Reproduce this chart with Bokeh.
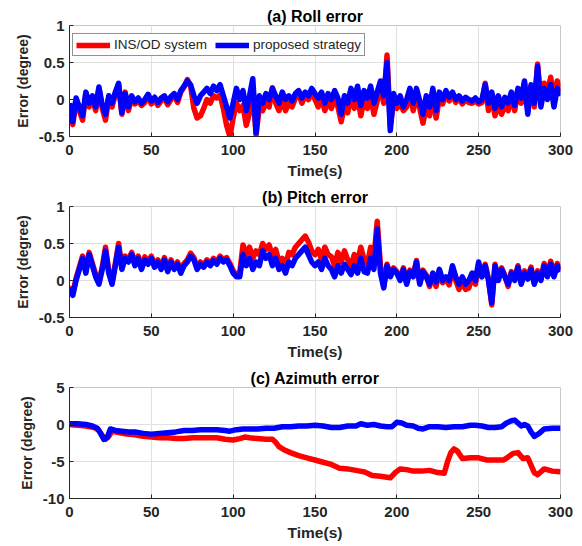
from bokeh.plotting import figure
from bokeh.layouts import column
from bokeh.models import FixedTicker, CustomJSTickFormatter, Range1d, Legend, LegendItem
from bokeh.embed import file_html
from bokeh.resources import INLINE

# ---------------- data ----------------
t = list(range(0, 301, 2))  # time stamps (s)

roll_ins = [
    -0.08, -0.34, -0.02, -0.15, -0.28, 0.08, -0.10, 0.02, -0.15, 0.15,
    -0.12, -0.28, 0.02, -0.10, 0.07, 0.20, -0.20, 0.10, -0.15, 0.02,
    -0.06, -0.02, -0.08, -0.04, 0.05, -0.06, 0.00, -0.08, -0.02, 0.02,
    -0.07, 0.00, 0.06, -0.04, 0.10, 0.17, 0.27, 0.18, -0.12, -0.25,
    -0.22, -0.12, 0.00, -0.05, 0.05, 0.02, 0.06, -0.12, -0.35, -0.50,
    -0.25, -0.05, -0.15, -0.08, -0.35, -0.18, 0.15, -0.48, -0.10, -0.15,
    -0.05, -0.10, 0.16, -0.05, -0.15, 0.00, -0.15, -0.05, -0.10, 0.02,
    0.08, -0.05, 0.06, 0.00, 0.12, 0.00, -0.10, 0.02, -0.15, -0.02,
    -0.12, 0.02, -0.10, -0.30, -0.08, -0.18, 0.05, -0.12, 0.05, -0.22,
    0.00, -0.12, 0.05, -0.20, -0.02, 0.18, -0.05, 0.60, -0.35, -0.05,
    -0.12, -0.05, -0.15, -0.10, 0.10, -0.15, 0.05, -0.12, -0.32, -0.08,
    -0.22, 0.05, -0.25, 0.02, -0.06, 0.08, -0.02, 0.06, -0.04, 0.02,
    -0.06, 0.00, -0.04, -0.05, -0.02, -0.06, -0.04, 0.22, -0.15, 0.05,
    -0.22, -0.05, -0.20, -0.08, -0.15, 0.05, -0.15, 0.12, -0.05, 0.22,
    -0.15, 0.18, -0.10, 0.48, -0.05, 0.22, 0.10, 0.30, 0.00, 0.25,
    0.12,
]
roll_prop = [
    -0.05, -0.30, 0.02, -0.10, -0.22, 0.10, -0.05, 0.05, -0.10, 0.17,
    -0.08, -0.20, 0.05, -0.05, 0.10, 0.22, -0.18, 0.08, -0.10, 0.05,
    -0.03, 0.02, -0.05, 0.00, 0.07, -0.02, 0.03, -0.04, 0.02, 0.05,
    -0.03, 0.04, 0.08, 0.00, 0.12, 0.18, 0.25, 0.20, 0.05, -0.05,
    0.05, 0.10, 0.15, 0.08, 0.18, 0.12, 0.20, 0.05, -0.10, -0.25,
    -0.05, 0.15, 0.00, 0.12, -0.15, 0.05, 0.28, -0.45, 0.05, -0.05,
    0.08, 0.00, 0.15, 0.05, -0.05, 0.10, 0.00, 0.05, -0.02, 0.08,
    0.12, 0.02, 0.10, 0.05, 0.15, 0.08, 0.02, 0.10, -0.05, 0.08,
    0.00, 0.12, 0.02, -0.20, 0.05, -0.05, 0.15, 0.00, 0.18, -0.08,
    0.12, 0.02, 0.18, -0.05, 0.10, 0.25, 0.05, 0.50, -0.42, 0.08,
    -0.05, 0.05, -0.10, 0.00, 0.15, -0.05, 0.15, -0.02, -0.20, 0.05,
    -0.10, 0.15, -0.15, 0.10, 0.00, 0.12, 0.03, 0.10, 0.00, 0.05,
    -0.02, 0.03, 0.00, -0.02, 0.02, -0.03, 0.00, 0.20, -0.05, 0.10,
    -0.12, 0.05, -0.10, 0.03, -0.05, 0.10, -0.08, 0.15, 0.02, 0.25,
    -0.20, 0.20, -0.05, 0.45, -0.10, 0.15, 0.00, 0.20, -0.10, 0.15,
    0.05,
]

pitch_ins = [
    -0.08, -0.18, 0.03, 0.18, 0.33, 0.13, 0.38, 0.23, 0.08, -0.02,
    0.18, 0.45, 0.13, -0.02, 0.23, 0.50, 0.18, 0.33, 0.28, 0.38,
    0.23, 0.33, 0.18, 0.32, 0.25, 0.33, 0.21, 0.28, 0.18, 0.31,
    0.15, 0.28, 0.18, 0.25, 0.13, 0.23, 0.28, 0.37, 0.31, 0.18,
    0.25, 0.21, 0.28, 0.23, 0.30, 0.25, 0.33, 0.28, 0.31, 0.23,
    0.13, 0.08, 0.10, 0.48, 0.35, 0.45, 0.30, 0.40, 0.35, 0.50,
    0.42, 0.48, 0.33, 0.42, 0.25, 0.30, 0.20, 0.38, 0.35, 0.45,
    0.50, 0.55, 0.60, 0.52, 0.40, 0.35, 0.42, 0.28, 0.45, 0.35,
    0.32, 0.20, 0.38, 0.25, 0.40, 0.28, 0.20, 0.35, 0.25, 0.45,
    0.28, 0.22, 0.45, 0.30, 0.80, 0.20, -0.08, 0.22, 0.07, 0.17,
    0.12, 0.02, 0.17, -0.03, 0.14, 0.07, 0.27, -0.03, 0.14, 0.07,
    -0.08, 0.08, -0.08, 0.13, -0.03, 0.02, -0.06, 0.17, 0.00, -0.12,
    -0.02, -0.12, -0.10, 0.05, -0.05, 0.22, 0.05, 0.22, 0.02, -0.33,
    0.22, 0.02, 0.17, 0.07, -0.08, 0.12, 0.02, 0.20, -0.03, 0.13,
    0.05, 0.18, -0.03, 0.13, 0.02, 0.23, 0.08, 0.26, 0.08, 0.23,
    0.15,
]
pitch_prop = [
    -0.10, -0.20, 0.00, 0.15, 0.30, 0.10, 0.35, 0.20, 0.05, -0.05,
    0.15, 0.40, 0.10, -0.05, 0.20, 0.45, 0.15, 0.30, 0.25, 0.35,
    0.20, 0.30, 0.15, 0.28, 0.22, 0.30, 0.18, 0.25, 0.15, 0.28,
    0.12, 0.25, 0.15, 0.22, 0.10, 0.20, 0.25, 0.33, 0.28, 0.15,
    0.22, 0.18, 0.25, 0.20, 0.27, 0.22, 0.30, 0.25, 0.28, 0.20,
    0.10, 0.05, 0.05, 0.35, 0.20, 0.30, 0.15, 0.25, 0.20, 0.40,
    0.30, 0.35, 0.20, 0.30, 0.15, 0.20, 0.10, 0.25, 0.20, 0.30,
    0.35, 0.40, 0.45, 0.35, 0.25, 0.20, 0.25, 0.15, 0.30, 0.20,
    0.15, 0.05, 0.20, 0.10, 0.22, 0.15, 0.08, 0.20, 0.10, 0.30,
    0.12, 0.10, 0.30, 0.15, 0.70, 0.10, -0.10, 0.20, 0.05, 0.15,
    0.10, 0.00, 0.15, -0.05, 0.12, 0.05, 0.25, -0.05, 0.12, 0.05,
    -0.05, 0.10, -0.02, 0.15, 0.00, 0.05, 0.00, 0.20, 0.05, -0.05,
    0.05, -0.05, 0.00, 0.10, 0.00, 0.25, 0.05, 0.20, 0.00, -0.30,
    0.20, 0.00, 0.15, 0.05, -0.05, 0.10, 0.00, 0.18, -0.05, 0.10,
    0.02, 0.15, -0.05, 0.10, 0.00, 0.20, 0.05, 0.22, 0.05, 0.20,
    0.12,
]

az_ins_t = [0, 5, 10, 15, 18, 20, 22, 24, 26, 30, 35, 40, 45, 50, 55, 60, 65, 70, 75, 80,
            85, 90, 95, 100, 104, 107, 110, 115, 120, 124, 126, 128, 131, 135, 140, 145, 150, 155, 160, 165,
            170, 175, 180, 185, 190, 193, 196, 199, 202, 206, 210, 215, 220, 225, 229, 231, 233, 235, 237, 240,
            245, 250, 255, 260, 265, 268, 271, 274, 277, 280, 282, 284, 286, 290, 295, 300]
az_ins = [0.0, -0.1, -0.2, -0.4, -0.8, -1.5, -2.0, -1.6, -0.9, -1.1, -1.3, -1.4, -1.6, -1.7, -1.8, -1.8, -1.9, -1.9, -1.8, -1.8,
          -1.8, -1.8, -2.0, -2.1, -1.9, -1.7, -1.8, -1.9, -2.0, -2.0, -2.4, -3.0, -3.4, -3.8, -4.2, -4.5, -4.8, -5.1, -5.4, -5.9,
          -6.0, -6.2, -6.4, -6.9, -7.0, -7.1, -7.2, -6.5, -6.0, -6.1, -6.3, -6.3, -6.2, -6.5, -6.6, -5.0, -3.8, -3.3, -3.6, -4.6,
          -4.5, -4.5, -4.8, -4.8, -4.8, -4.4, -3.9, -3.8, -4.6, -4.5, -5.5, -6.5, -6.8, -6.0, -6.3, -6.4]
az_prop_t = [0, 5, 10, 14, 17, 19, 21, 23, 25, 28, 32, 36, 40, 45, 50, 55, 60, 65, 70, 75,
             80, 85, 90, 95, 98, 102, 106, 110, 115, 120, 125, 130, 135, 140, 145, 150, 155, 160, 165, 170,
             175, 178, 182, 186, 190, 194, 197, 200, 203, 206, 210, 213, 216, 220, 225, 230, 235, 240, 245, 248,
             252, 256, 260, 264, 267, 270, 272, 274, 276, 278, 280, 282, 284, 287, 290, 295, 300]
az_prop = [0.1, 0.1, 0.0, -0.2, -0.5, -1.2, -2.0, -1.8, -0.6, -0.8, -0.9, -1.0, -1.0, -1.2, -1.3, -1.2, -1.1, -1.0, -0.8, -0.8,
           -0.7, -0.7, -0.7, -0.8, -0.9, -0.7, -0.6, -0.6, -0.6, -0.5, -0.5, -0.3, -0.3, -0.2, -0.2, -0.1, -0.2, -0.4, -0.4, -0.2,
           -0.2, 0.1, -0.1, 0.0, -0.2, -0.3, -0.3, 0.3, 0.2, -0.1, -0.2, -0.5, -0.6, -0.3, -0.3, -0.4, -0.3, -0.3, -0.1, -0.1,
           -0.2, -0.4, -0.4, -0.3, 0.2, 0.5, 0.6, 0.2, -0.2, 0.0, -0.2, -1.0, -1.6, -1.2, -0.6, -0.5, -0.5]

x_ticks = [0, 50, 100, 150, 200, 250, 300]
att_ticks = [-0.5, 0, 0.5, 1]
az_ticks = [-10, -5, 0, 5]
titles = ["(a) Roll error", "(b) Pitch error", "(c) Azimuth error"]
series_names = ["INS/OD system", "proposed strategy"]

# ---------------- styling ----------------
FONT = "Liberation Sans"
AX = "#262626"
RED = "#ff0000"
BLUE = "#0000ff"
LW = 5.5


def make_fig(title, height, yr, yticks, bb):
    p = figure(width=582, height=height, output_backend="svg", toolbar_location=None,
               x_range=Range1d(0, 300), y_range=Range1d(*yr),
               min_border_left=69, min_border_right=22, min_border_top=25,
               min_border_bottom=bb, background_fill_color="white",
               border_fill_color="white")
    p.title.text = title
    p.title.align = "center"
    p.title.text_font = FONT
    p.title.text_font_size = "16px"
    p.title.text_font_style = "bold"
    p.title.text_color = "#000000"
    p.title.standoff = 2
    p.outline_line_color = "#c8c8c8"
    p.outline_line_width = 1

    p.xaxis.ticker = FixedTicker(ticks=x_ticks)
    p.yaxis.ticker = FixedTicker(ticks=yticks)
    p.yaxis.formatter = CustomJSTickFormatter(code="return tick.toString();")
    p.xaxis.formatter = CustomJSTickFormatter(code="return tick.toString();")
    for ax in (p.xaxis[0], p.yaxis[0]):
        ax.axis_line_color = AX
        ax.major_tick_line_color = AX
        ax.major_tick_in = 4
        ax.major_tick_out = 0
        ax.minor_tick_line_color = None
        ax.major_label_text_font = FONT
        ax.major_label_text_font_size = "15px"
        ax.major_label_text_font_style = "bold"
        ax.major_label_text_color = AX
        ax.axis_label_text_font = FONT
        ax.axis_label_text_font_style = "bold"
        ax.axis_label_text_color = AX
    p.xaxis.axis_label = "Time(s)"
    p.xaxis.axis_label_text_font_size = "15.5px"
    p.xaxis.major_label_standoff = 8
    p.xaxis.axis_label_standoff = 4
    p.yaxis.axis_label = "Error (degree)"
    p.yaxis.axis_label_text_font_size = "14px"
    p.yaxis.major_label_standoff = 5
    p.yaxis.axis_label_standoff = 5
    p.grid.grid_line_color = "#e0e0e0"
    p.grid.grid_line_width = 1
    return p


p1 = make_fig(titles[0], 181, (-0.5, 1), att_ticks, 45)
r1 = p1.line(t, roll_ins, line_color=RED, line_width=LW, line_join="round")
r2 = p1.line(t, roll_prop, line_color=BLUE, line_width=LW, line_join="round")
legend = Legend(items=[LegendItem(label=series_names[0], renderers=[r1]),
                       LegendItem(label=series_names[1], renderers=[r2])],
                location=(3, 80), orientation="horizontal",
                glyph_width=34, glyph_height=12, label_height=12, label_standoff=4,
                spacing=8, padding=3, margin=0,
                label_text_font=FONT, label_text_font_size="13.5px", label_text_color=AX,
                border_line_color=AX, border_line_width=1,
                background_fill_color="white", background_fill_alpha=1)
p1.add_layout(legend, "center")

p2 = make_fig(titles[1], 181, (-0.5, 1), att_ticks, 45)
p2.line(t, pitch_ins, line_color=RED, line_width=LW, line_join="round")
p2.line(t, pitch_prop, line_color=BLUE, line_width=LW, line_join="round")

p3 = make_fig(titles[2], 184, (-10, 5), az_ticks, 48)
p3.line(az_ins_t, az_ins, line_color=RED, line_width=LW, line_join="round")
p3.line(az_prop_t, az_prop, line_color=BLUE, line_width=LW, line_join="round")

layout = column(p1, p2, p3, spacing=0)
open("out.html", "w").write(file_html(layout, INLINE))
